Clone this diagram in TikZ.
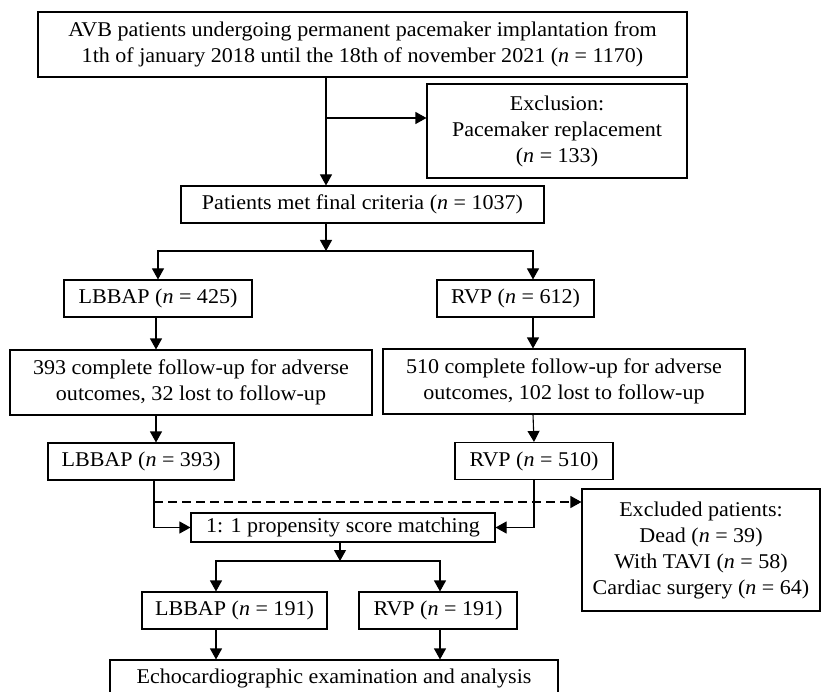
\documentclass[tikz,border=0pt]{standalone}
\usepackage{fontspec}
\setmainfont{Liberation Serif}[FakeStretch=1.05]
\usetikzlibrary{arrows.meta,positioning}
\newcommand{\nn}{\textit{n}}
\tikzset{
  box/.style={draw, line width=1.1pt, inner sep=0pt, align=center,
    font=\fontsize{21}{26}\selectfont},
  arr/.style={line width=1.1pt, -{Triangle[width=12pt,length=11pt]}},
  link/.style={line width=1.1pt}
}
\begin{document}
\begin{tikzpicture}[x=1pt, y=-1pt]
  \useasboundingbox (0,0) rectangle (821,692);
  \clip (0,0) rectangle (821,692);

  % Columns of the connectors
  \coordinate (sp) at (326,0);
  \coordinate (cL) at (156,0);
  \coordinate (cR) at (533,0);
  \coordinate (dL) at (216,0);
  \coordinate (dR) at (440,0);

  % Boxes
  \node[box, minimum width=649pt, minimum height=65pt] (top) at (362.5,44.5)
    {AVB patients undergoing permanent pacemaker implantation from\\
     1th of january 2018 until the 18th of november 2021 (\nn{} = 1170)};
  \node[box, minimum width=260pt, minimum height=94pt] (excl) at (557,131)
    {Exclusion:\\Pacemaker replacement\\(\nn{} = 133)};
  \node[box, minimum width=363pt, minimum height=37pt] (final) at (362.5,204.5)
    {Patients met final criteria (\nn{} = 1037)};
  \node[box, minimum width=188pt, minimum height=37pt] (lb425) at (158,298.5)
    {LBBAP (\nn{} = 425)};
  \node[box, minimum width=157pt, minimum height=37pt] (rv612) at (515.5,298.5)
    {RVP (\nn{} = 612)};
  \node[box, minimum width=362pt, minimum height=65pt] (fu393) at (191,382.5)
    {393 complete follow-up for adverse\\outcomes, 32 lost to follow-up};
  \node[box, minimum width=362pt, minimum height=65pt] (fu510) at (564,381.5)
    {510 complete follow-up for adverse\\outcomes, 102 lost to follow-up};
  \node[box, minimum width=186pt, minimum height=37pt] (lb393) at (141,461.5)
    {LBBAP (\nn{} = 393)};
  \node[box, minimum width=158pt, minimum height=37pt] (rv510) at (534,461)
    {RVP (\nn{} = 510)};
  \node[box, minimum width=304pt, minimum height=29pt] (psm) at (343,527.5)
    {1: 1 propensity score matching};
  \node[box, minimum width=238pt, minimum height=122pt] (excl2) at (701,550)
    {Excluded patients:\\Dead (\nn{} = 39)\\With TAVI (\nn{} = 58)\\Cardiac surgery (\nn{} = 64)};
  \node[box, minimum width=185pt, minimum height=37pt] (lb191) at (234.5,610.5)
    {LBBAP (\nn{} = 191)};
  \node[box, minimum width=158pt, minimum height=37pt] (rv191) at (438,610.5)
    {RVP (\nn{} = 191)};
  \node[box, minimum width=448pt, minimum height=37pt] (echo) at (334,678.5)
    {Echocardiographic examination and analysis};

  % Upper connectors
  \coordinate (exbr) at (326,118);
  \coordinate (split1) at (326,251);
  \draw[arr] (top.south -| sp) -- (final.north -| sp);
  \draw[arr] (exbr) -- (exbr -| excl.west);
  \draw[arr] (final.south -| sp) -- (split1);
  \draw[arr] (split1) -| (lb425.north);
  \draw[arr] (split1) -| (cR |- rv612.north);
  \draw[arr] (lb425.south -| cL) -- (cL |- fu393.north);
  \draw[arr] (rv612.south -| cR) -- (cR |- fu510.north);
  \draw[arr] (fu393.south -| cL) -- (cL |- lb393.north);
  \draw[arr] (fu510.south -| cR) -- (rv510.north);

  % Matching
  \coordinate (dsh) at (154,502);
  \draw[arr] (lb393.south -| dsh) |- (psm.west);
  \draw[arr] (rv510.south) |- (psm.east);
  \draw[arr, dashed, dash pattern=on 9pt off 5pt] (dsh) -- (dsh -| excl2.west);

  % Lower connectors
  \coordinate (split2) at (340,561);
  \draw[arr] (psm.south -| split2) -- (split2);
  \draw[arr] (split2) -| (dL |- lb191.north);
  \draw[arr] (split2) -| (dR |- rv191.north);
  \draw[arr] (lb191.south -| dL) -- (dL |- echo.north);
  \draw[arr] (rv191.south -| dR) -- (dR |- echo.north);
\end{tikzpicture}
\end{document}
